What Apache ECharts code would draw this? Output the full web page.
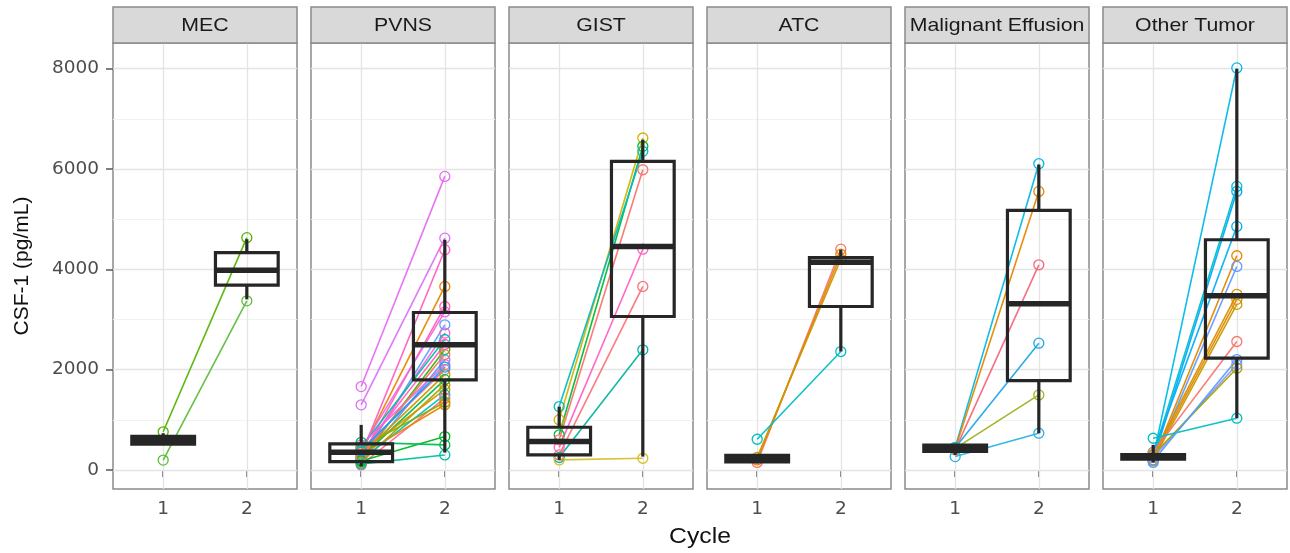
<!DOCTYPE html>
<html>
<head>
<meta charset="utf-8">
<script src="https://cdn.jsdelivr.net/npm/echarts@6/dist/echarts.min.js"></script>
<style>
html,body{margin:0;padding:0;background:#fff;}
#c{width:1290px;height:553px;}
</style>
</head>
<body>
<div id="c"></div>
<script>
// ---------------- data ----------------
const facets = ['MEC', 'PVNS', 'GIST', 'ATC', 'Malignant Effusion', 'Other Tumor'];
const cycles = [1, 2];
const yTicks = [0, 2000, 4000, 6000, 8000];
const yMinorTicks = [1000, 3000, 5000, 7000];

// paired subject values (cycle 1 -> cycle 2) and colours
const mecC1 = [760, 197];
const mecC2 = [4630, 3370];
const mecCol = ['#53B400', '#5DBE3A'];

const pvnsC1 = [1662, 1297, 300, 350, 250, 420, 200, 300, 450, 350, 200, 150, 500, 400, 300, 250, 150, 350, 200, 100, 450, 300, 180, 550, 120, 260, 380];
const pvnsC2 = [5851, 4620, 4390, 3657, 3258, 3150, 2893, 2727, 2600, 2500, 2400, 2194, 2100, 2000, 1900, 1800, 1700, 1600, 1500, 1430, 1350, 1300, 665, 499, 299, 2300, 2050];
const pvnsCol = ['#E76BF3', '#DB72FB', '#FF61C3', '#E58700', '#FF67A4', '#F066EA', '#619CFF', '#FD61D1', '#00C0AF', '#FF62BC', '#39B600', '#529EFF', '#F564E3', '#FF6C91', '#C99800', '#00BB4E', '#A3A500', '#D89000', '#00BFC4', '#FF6A98', '#85AD00', '#E38900', '#00B81F', '#00BD5C', '#00C1A3', '#F8766D', '#00A9FF'];

const gistC1 = [1000, 700, 1263, 600, 450, 300, 250, 200];
const gistC2 = [6616, 6450, 6350, 5984, 4400, 3657, 2394, 233];
const gistCol = ['#D4B300', '#00BA38', '#00BFC4', '#F8766D', '#FF61C3', '#FB727B', '#00B5A0', '#D9BE2A'];

const atcC1 = [150, 200, 250, 612];
const atcC2 = [4400, 4300, 4200, 2360];
const atcCol = ['#F8766D', '#E58700', '#C99800', '#00BFC4'];

const meC1 = [450, 420, 400, 440, 430, 266];
const meC2 = [6104, 5552, 4089, 2527, 1496, 732];
const meCol = ['#00B8E7', '#E58700', '#F4687D', '#1FA8E8', '#9DB21E', '#2BB3E3'];

const otC1 = [250, 300, 200, 350, 200, 150, 300, 250, 200, 350, 250, 300, 632, 180];
const otC2 = [8013, 5652, 5552, 4854, 4269, 4056, 3500, 3400, 3300, 2560, 2100, 2028, 1031, 2200];
const otCol = ['#00B8E7', '#00BFC4', '#00ABFD', '#00B0F6', '#E58700', '#619CFF', '#D89000', '#E38900', '#C99800', '#F8766D', '#9590FF', '#A3A500', '#00BFC4', '#529EFF'];

// box statistics [min, Q1, median, Q3, max]
const mecBox1 = [515, 515, 590, 668, 731];
const mecBox2 = [3401, 3683, 3979, 4331, 4599];
const pvnsBox1 = [67, 166, 353, 518, 898];
const pvnsBox2 = [346, 1795, 2493, 3138, 4588];
const gistBox1 = [200, 299, 565, 851, 1263];
const gistBox2 = [266, 3058, 4455, 6150, 6583];
const atcBox1 = [130, 160, 230, 290, 320];
const atcBox2 = [2360, 3258, 4140, 4230, 4389];
const meBox1 = [300, 370, 432, 495, 520];
const meBox2 = [732, 1782, 3311, 5173, 6084];
const otBox1 = [150, 215, 260, 305, 499];
const otBox2 = [1031, 2228, 3471, 4588, 7993];

// ---------------- layout / style ----------------
const L0 = 113, STEP = 198, PW = 184, PT = 43, PH = 446, ST = 7, SH = 36;
const BORDER = '#8a8a8a';
const BOX_COLOR = '#262626';
const BOX_WIDTH = 0.75;
const TICK_FONT = 'DejaVu Sans';

const facetSets = [
  {c1: mecC1, c2: mecC2, col: mecCol, b1: mecBox1, b2: mecBox2},
  {c1: pvnsC1, c2: pvnsC2, col: pvnsCol, b1: pvnsBox1, b2: pvnsBox2},
  {c1: gistC1, c2: gistC2, col: gistCol, b1: gistBox1, b2: gistBox2},
  {c1: atcC1, c2: atcC2, col: atcCol, b1: atcBox1, b2: atcBox2},
  {c1: meC1, c2: meC2, col: meCol, b1: meBox1, b2: meBox2},
  {c1: otC1, c2: otC2, col: otCol, b1: otBox1, b2: otBox2}
];

function renderBox(params, api) {
  const x = api.value(0);
  const pMin = api.coord([x, api.value(1)]);
  const pQ1 = api.coord([x, api.value(2)]);
  const pMed = api.coord([x, api.value(3)]);
  const pQ3 = api.coord([x, api.value(4)]);
  const pMax = api.coord([x, api.value(5)]);
  const halfW = api.size([BOX_WIDTH / 2, 0])[0];
  const cx = pMed[0];
  return {
    type: 'group',
    children: [
      {type: 'rect', shape: {x: cx - 1.6, y: pMax[1], width: 3.2, height: pQ3[1] - pMax[1]},
        style: {fill: BOX_COLOR}},
      {type: 'rect', shape: {x: cx - 1.6, y: pQ1[1], width: 3.2, height: pMin[1] - pQ1[1]},
        style: {fill: BOX_COLOR}},
      {type: 'rect', shape: {x: cx - halfW, y: pQ3[1], width: 2 * halfW, height: pQ1[1] - pQ3[1]},
        style: {stroke: BOX_COLOR, lineWidth: 3.2, fill: 'rgba(0,0,0,0)'}},
      {type: 'line', shape: {x1: cx - halfW, y1: pMed[1], x2: cx + halfW, y2: pMed[1]},
        style: {stroke: BOX_COLOR, lineWidth: 5.5}}
    ]
  };
}

const grid = [], xAxis = [], yAxis = [], series = [], graphic = [];

facets.forEach((name, i) => {
  const left = L0 + i * STEP;
  grid.push({left: left, top: PT, width: PW, height: PH, show: true,
    backgroundColor: '#ffffff', borderColor: BORDER, borderWidth: 1.5});
  xAxis.push({
    gridIndex: i, type: 'value', min: 0.4, max: 2.6,
    axisLine: {show: false},
    axisTick: {show: true, customValues: cycles, length: 7, lineStyle: {color: '#555', width: 1.5}},
    axisLabel: {show: true, customValues: cycles, margin: 11, fontSize: 18.5, color: '#4d4d4d', fontFamily: TICK_FONT,
      formatter: v => String(v)},
    splitLine: {show: false}
  });
  yAxis.push({
    gridIndex: i, type: 'value', min: -380, max: 8510,
    axisLine: {show: false},
    axisTick: {show: i === 0, customValues: yTicks, length: 7, lineStyle: {color: '#555', width: 1.5}},
    axisLabel: {show: i === 0, customValues: yTicks, margin: 14, fontSize: 18.5, color: '#4d4d4d', fontFamily: TICK_FONT,
      formatter: v => String(v)},
    splitLine: {show: false},
    name: i === 0 ? 'CSF-1 (pg/mL)' : '',
    nameLocation: 'middle', nameGap: 80,
    nameTextStyle: {fontSize: 21, color: '#111', fontFamily: 'Liberation Sans'}
  });
  // panel grid lines (drawn beneath all marks)
  series.push({
    type: 'line', xAxisIndex: i, yAxisIndex: i, data: [], z: 1, silent: true,
    markLine: {
      z: 1, silent: true, symbol: ['none', 'none'], label: {show: false}, animation: false,
      data: [].concat(
        yMinorTicks.map(v => ({yAxis: v, lineStyle: {color: '#f2f2f2', width: 1, type: 'solid'}})),
        yTicks.map(v => ({yAxis: v, lineStyle: {color: '#e4e4e4', width: 1.3, type: 'solid'}})),
        cycles.map(c => ({xAxis: c, lineStyle: {color: '#e4e4e4', width: 1.3, type: 'solid'}}))
      )
    }
  });
  const d = facetSets[i];
  d.c1.forEach((v, k) => {
    series.push({
      type: 'line', xAxisIndex: i, yAxisIndex: i, z: 2, silent: true,
      data: [[cycles[0], v], [cycles[1], d.c2[k]]],
      lineStyle: {color: d.col[k], width: 1.6, opacity: 0.95},
      symbol: 'circle', symbolSize: 10, showSymbol: true,
      itemStyle: {color: 'rgba(0,0,0,0)', borderColor: d.col[k], borderWidth: 1.3},
      emphasis: {disabled: true}
    });
  });
  series.push({
    type: 'custom', xAxisIndex: i, yAxisIndex: i, z: 4, silent: true, clip: false,
    data: [[cycles[0]].concat(d.b1), [cycles[1]].concat(d.b2)],
    encode: {x: 0, y: [1, 2, 3, 4, 5]},
    renderItem: renderBox
  });
  // facet strip
  graphic.push({type: 'rect', silent: true, z: 10,
    shape: {x: left, y: ST, width: PW, height: SH},
    style: {fill: '#d9d9d9', stroke: BORDER, lineWidth: 1.5}});
  graphic.push({type: 'text', silent: true, z: 11, x: left + PW / 2, y: ST + SH / 2 + 1, scaleX: 1.15,
    style: {text: name, textAlign: 'center', textVerticalAlign: 'middle', fontSize: 18.5,
      fontFamily: 'Liberation Sans', fill: '#1a1a1a'}});
});

graphic.push({type: 'text', silent: true, x: L0 + (5 * STEP + PW) / 2, y: 537, scaleX: 1.15,
  style: {text: 'Cycle', textAlign: 'center', textVerticalAlign: 'middle', fontSize: 21.5,
    fontFamily: 'Liberation Sans', fill: '#111'}});

const chart = echarts.init(document.getElementById('c'));
chart.setOption({
  animation: false,
  backgroundColor: '#ffffff',
  grid: grid, xAxis: xAxis, yAxis: yAxis, series: series, graphic: graphic
});
</script>
</body>
</html>
